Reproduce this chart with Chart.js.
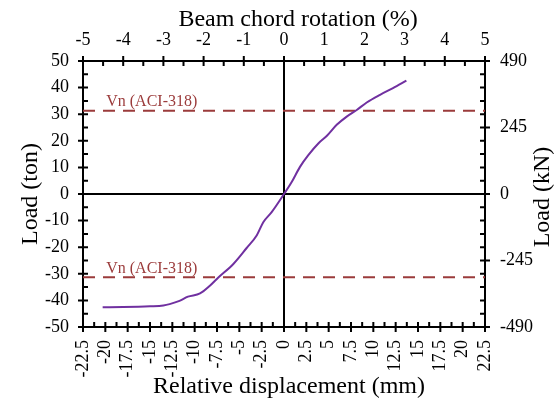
<!DOCTYPE html>
<html><head><meta charset="utf-8">
<script src="https://cdn.jsdelivr.net/npm/chart.js@4"></script>
<style>html,body{margin:0;padding:0;background:#fff}#wrap{width:558px;height:401px}</style>
</head><body><div id="wrap"><canvas id="c" width="558" height="401"></canvas></div>
<script>
// ---- data ----
const dispMm = [-20.3, -18.0, -15.0, -13.5, -12.8, -11.7, -10.75, -9.4, -8.3, -7.35, -5.67, -4.18, -3.06, -2.32, -1.38, 0, 0.86, 1.79, 2.72, 3.84, 4.78, 5.9, 7.02, 8.14, 9.26, 10.75, 12.2, 13.7];
const loadTon = [-42.6, -42.5, -42.2, -41.9, -41.4, -40.2, -38.6, -37.4, -34.5, -31.4, -26.3, -20.3, -15.6, -10.6, -6.8, 0, 4.5, 10.2, 14.6, 19.0, 21.8, 26.0, 29.1, 31.6, 34.4, 37.3, 39.8, 42.6];
const vnTon = 31.3;
const vnLabel = 'Vn (ACI-318)';
const dispTicks = [-22.5, -20, -17.5, -15, -12.5, -10, -7.5, -5, -2.5, 0, 2.5, 5, 7.5, 10, 12.5, 15, 17.5, 20, 22.5];
const rotationTicks = [-5, -4, -3, -2, -1, 0, 1, 2, 3, 4, 5];
const tonTicks = [-50, -40, -30, -20, -10, 0, 10, 20, 30, 40, 50];
const kNTicks = [-490, -245, 0, 245, 490];
const titleBottom = 'Relative displacement (mm)';
const titleTop = 'Beam chord rotation (%)';
const titleLeft = 'Load (ton)';
const titleRight = 'Load (kN)';

const FONT = '"Liberation Serif", "Times New Roman", serif';
const curveColor = '#7030a0';
const vnColor = '#9b3b3b';
Chart.defaults.font.family = FONT;
Chart.defaults.color = '#000';

function setTicks(arr){ return s => { s.ticks = arr.map(v => ({value: v})); }; }
function minorsOf(arr, n){
  const out = [];
  for (let i = 0; i < arr.length - 1; i++)
    for (let k = 1; k < n; k++) out.push(arr[i] + (arr[i+1] - arr[i]) * k / n);
  return out;
}

const axisDeco = {
  id: 'axisDeco',
  beforeDatasetsDraw(chart){
    const {ctx, chartArea: a, scales} = chart;
    ctx.save();
    ctx.strokeStyle = '#000'; ctx.lineWidth = 2;
    const x0 = scales.x.getPixelForValue(0), y0 = scales.y.getPixelForValue(0);
    ctx.beginPath();
    ctx.moveTo(x0, a.top); ctx.lineTo(x0, a.bottom);
    ctx.moveTo(a.left, y0); ctx.lineTo(a.right, y0);
    ctx.stroke();
    ctx.restore();
  },
  afterDraw(chart){
    const {ctx, chartArea: a, scales} = chart;
    ctx.save();
    ctx.strokeStyle = '#000'; ctx.lineWidth = 2;
    const L = 5;
    ctx.beginPath();
    dispTicks.forEach(v => { const p = scales.x.getPixelForValue(v); ctx.moveTo(p, a.bottom - L); ctx.lineTo(p, a.bottom + L); });
    minorsOf(dispTicks, 2).forEach(v => { const p = scales.x.getPixelForValue(v); ctx.moveTo(p, a.bottom - L); ctx.lineTo(p, a.bottom); });
    rotationTicks.forEach(v => { const p = scales.x2.getPixelForValue(v); ctx.moveTo(p, a.top - L); ctx.lineTo(p, a.top + L); });
    minorsOf(rotationTicks, 2).forEach(v => { const p = scales.x2.getPixelForValue(v); ctx.moveTo(p, a.top); ctx.lineTo(p, a.top + L); });
    tonTicks.forEach(v => { const p = scales.y.getPixelForValue(v); ctx.moveTo(a.left - L, p); ctx.lineTo(a.left + L, p); });
    minorsOf(tonTicks, 2).forEach(v => { const p = scales.y.getPixelForValue(v); ctx.moveTo(a.left, p); ctx.lineTo(a.left + L, p); });
    kNTicks.forEach(v => { const p = scales.y2.getPixelForValue(v); ctx.moveTo(a.right - L, p); ctx.lineTo(a.right + L, p); });
    minorsOf(kNTicks, 5).forEach(v => { const p = scales.y2.getPixelForValue(v); ctx.moveTo(a.right - L, p); ctx.lineTo(a.right, p); });
    ctx.stroke();

    ctx.fillStyle = vnColor;
    ctx.font = '16px ' + FONT;
    ctx.textAlign = 'left'; ctx.textBaseline = 'alphabetic';
    const lx = scales.x.getPixelForValue(-19.9);
    ctx.fillText(vnLabel, lx, scales.y.getPixelForValue(vnTon) - 4.5);
    ctx.fillText(vnLabel, lx, scales.y.getPixelForValue(-vnTon) - 4.5);

    ctx.fillStyle = '#000';
    ctx.font = '24px ' + FONT;
    ctx.textAlign = 'center';
    ctx.fillText(titleTop, 298, 26);
    ctx.fillText(titleBottom, 289, 393);
    const cy = (a.top + a.bottom) / 2;
    ctx.save(); ctx.translate(37, cy); ctx.rotate(-Math.PI / 2); ctx.fillText(titleLeft, 0, 0); ctx.restore();
    ctx.save(); ctx.translate(549, cy + 3); ctx.rotate(-Math.PI / 2); ctx.fillText(titleRight, 0, 0); ctx.restore();
    ctx.restore();
  }
};

const axisCommon = {
  type: 'linear',
  grid: {display: false, drawTicks: false},
  border: {display: true, color: '#000', width: 2},
};

new Chart(document.getElementById('c'), {
  type: 'scatter',
  data: {
    datasets: [
      {
        label: 'curve',
        data: dispMm.map((x, i) => ({x, y: loadTon[i]})),
        showLine: true, borderColor: curveColor, borderWidth: 2, pointRadius: 0,
        cubicInterpolationMode: 'monotone',
        xAxisID: 'x', yAxisID: 'y'
      },
      {
        label: 'Vn+',
        data: [{x: dispTicks[0], y: vnTon}, {x: dispTicks[dispTicks.length - 1], y: vnTon}],
        showLine: true, borderColor: vnColor, borderWidth: 2, borderDash: [12, 8], pointRadius: 0,
        xAxisID: 'x', yAxisID: 'y'
      },
      {
        label: 'Vn-',
        data: [{x: dispTicks[0], y: -vnTon}, {x: dispTicks[dispTicks.length - 1], y: -vnTon}],
        showLine: true, borderColor: vnColor, borderWidth: 2, borderDash: [12, 8], pointRadius: 0,
        xAxisID: 'x', yAxisID: 'y'
      }
    ]
  },
  options: {
    responsive: false,
    animation: false,
    devicePixelRatio: 1,
    layout: {padding: 0},
    plugins: {legend: {display: false}, tooltip: {enabled: false}},
    scales: {
      x: Object.assign({}, axisCommon, {
        position: 'bottom', min: dispTicks[0], max: dispTicks[dispTicks.length - 1],
        afterBuildTicks: setTicks(dispTicks),
        afterFit: s => { s.height = 74; },
        ticks: {autoSkip: false, minRotation: 90, maxRotation: 90, padding: 13, font: {size: 18}, callback: v => String(v)}
      }),
      x2: Object.assign({}, axisCommon, {
        position: 'top', min: rotationTicks[0], max: rotationTicks[rotationTicks.length - 1],
        afterBuildTicks: setTicks(rotationTicks),
        afterFit: s => { s.height = 61; },
        ticks: {autoSkip: false, maxRotation: 0, padding: 10, font: {size: 18}, callback: v => String(v)}
      }),
      y: Object.assign({}, axisCommon, {
        position: 'left', min: tonTicks[0], max: tonTicks[tonTicks.length - 1],
        afterBuildTicks: setTicks(tonTicks),
        afterFit: s => { s.width = 83; },
        ticks: {autoSkip: false, padding: 14, font: {size: 18}, callback: v => String(v)}
      }),
      y2: Object.assign({}, axisCommon, {
        position: 'right', min: kNTicks[0], max: kNTicks[kNTicks.length - 1],
        afterBuildTicks: setTicks(kNTicks),
        afterFit: s => { s.width = 73; },
        ticks: {autoSkip: false, padding: 15, font: {size: 18}, callback: v => String(v)}
      })
    }
  },
  plugins: [axisDeco]
});
</script>
</body></html>
